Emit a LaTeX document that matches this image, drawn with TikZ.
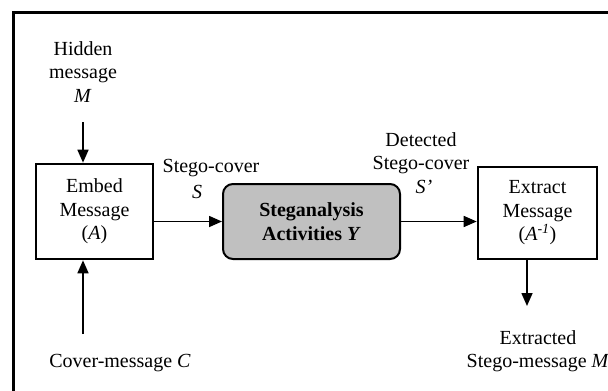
\documentclass[tikz,border=0pt]{standalone}
\usepackage{fontspec}
\setmainfont{Liberation Serif}
\usetikzlibrary{arrows.meta}
\definecolor{stegfill}{RGB}{192,192,192}
\begin{document}
\begin{tikzpicture}[x=1pt,y=-1pt,
  txt/.style={font=\fontsize{20}{23.5}\selectfont, align=center, inner sep=0pt},
  box/.style={txt, draw, line width=2.6pt},
  arr/.style={line width=1.6pt, -{Triangle[length=13pt,width=11pt]}},
]
\useasboundingbox (0,0) rectangle (608,391);
\clip (0,0) rectangle (608,391);
% outer frame
\draw[line width=3pt] (13.5,12.5) rectangle (700,500);

% nodes
\node[txt] (hidden) at (83,72) {Hidden\\message\\\textit{M}};
\node[box, minimum width=117pt, minimum height=95pt] (embed) at (94.5,211.5)
  {Embed\\Message\\(\textit{A})};
\node[box, line width=2pt, fill=stegfill, rounded corners=10pt,
  minimum width=177pt, minimum height=75pt, font=\fontsize{20}{23.5}\selectfont\bfseries]
  (steg) at (311.5,221.5) {Steganalysis\\Activities \textit{Y}};
\node[box, minimum width=119pt, minimum height=92pt] (extract) at (537.5,213)
  {Extract\\Message\\(\textit{A}\textsuperscript{\textit{-1}})};
\node[txt] (scover) at (211,168) {Stego-cover};
\node[txt] (slab) at (197,192) {\textit{S}};
\node[txt] (detected) at (421,163) {Detected\\Stego-cover\\\hspace*{6pt}\textit{S'}};
\node[txt] (cover) at (120,363) {Cover-message \textit{C}};
\node[txt] (extracted) at (538,351) {Extracted\\Stego-message \textit{M}};

\coordinate (hstart) at (83,122);
\coordinate (cstart) at (83,334);
\coordinate (dtip) at (527,306);

% connectors
\draw[arr] (hstart) -- (hstart |- embed.north);
\draw[arr] (cstart) -- (cstart |- embed.south);
\draw[arr] (embed.east |- steg.west) -- (steg.west);
\draw[arr] (steg.east) -- (extract.west |- steg.east);
\draw[arr] (dtip |- extract.south) -- (dtip);
\end{tikzpicture}
\end{document}
